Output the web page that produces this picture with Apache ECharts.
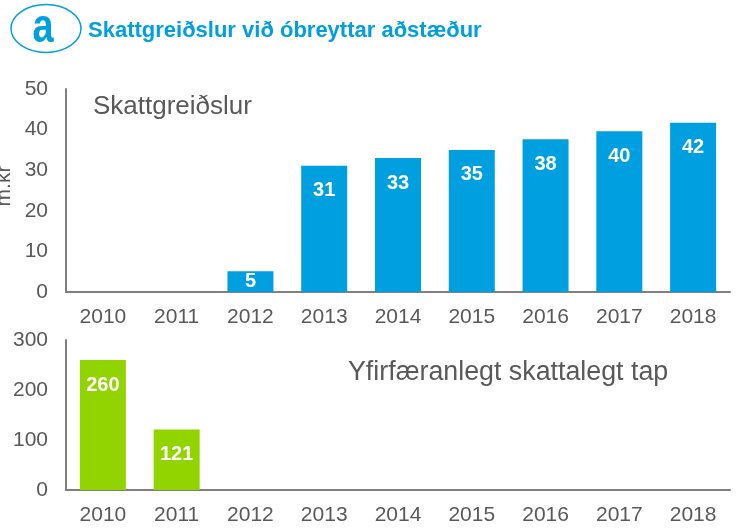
<!DOCTYPE html>
<html>
<head>
<meta charset="utf-8">
<script src="https://cdn.jsdelivr.net/npm/echarts@6/dist/echarts.min.js"></script>
<style>
  html, body { margin: 0; padding: 0; background: #fff; }
  #chart { width: 738px; height: 528px; }
</style>
</head>
<body>
<div id="chart"></div>
<script>
// data
var years = ['2010', '2011', '2012', '2013', '2014', '2015', '2016', '2017', '2018'];
var taxPaid = [null, null, 5.1, 31.1, 33.0, 35.0, 37.6, 39.6, 41.7];
var lossCarry = [260, 121, null, null, null, null, null, null, null];
var topTicks = [0, 50, 10];     // min, max, interval
var bottomTicks = [0, 300, 100];

var FONT = '"Liberation Sans", Arial, sans-serif';
var GREY = '#595959';
var BLUE = '#009fdf';
var GREEN = '#92d400';

var chart = echarts.init(document.getElementById('chart'));

function xAxisCfg(idx) {
  return {
    type: 'category', gridIndex: idx, data: years,
    axisLine: { lineStyle: { color: '#808080', width: 2 } },
    axisTick: { show: false },
    axisLabel: { color: GREY, fontSize: 21, fontFamily: FONT, margin: 15 }
  };
}
function yAxisCfg(idx, t) {
  return {
    type: 'value', gridIndex: idx, min: t[0], max: t[1], interval: t[2],
    splitLine: { show: false },
    axisLine: { show: true, lineStyle: { color: '#808080', width: 2 } },
    axisTick: { show: false },
    axisLabel: { color: GREY, fontSize: 21, fontFamily: FONT, margin: 18 }
  };
}

var labelStyle = {
  show: true, position: 'insideTop', distance: 15,
  color: '#fff', fontSize: 20, fontWeight: 'bold', fontFamily: FONT,
  formatter: function (p) { return Math.round(p.value); }
};

var topData = taxPaid.map(function (v) {
  // short bar: label sits in the middle of it
  if (v !== null && v < 10) return { value: v, label: { position: 'inside' } };
  return v;
});

chart.setOption({
  animation: false,
  textStyle: { fontFamily: FONT },
  grid: [
    { left: 66, right: 8, top: 89, bottom: 236, outerBoundsMode: 'none', containLabel: false },
    { left: 66, right: 8, top: 340, bottom: 38, outerBoundsMode: 'none', containLabel: false }
  ],
  xAxis: [xAxisCfg(0), xAxisCfg(1)],
  yAxis: [yAxisCfg(0, topTicks), yAxisCfg(1, bottomTicks)],
  series: [
    {
      name: 'Skattgreiðslur', type: 'bar', xAxisIndex: 0, yAxisIndex: 0,
      data: topData, barWidth: 46, itemStyle: { color: BLUE },
      label: labelStyle
    },
    {
      name: 'Yfirfæranlegt skattalegt tap', type: 'bar', xAxisIndex: 1, yAxisIndex: 1,
      data: lossCarry, barWidth: 46, itemStyle: { color: GREEN },
      label: labelStyle
    }
  ],
  graphic: [
    { type: 'ellipse', shape: { cx: 46, cy: 28.5, rx: 35, ry: 24 },
      style: { fill: 'none', stroke: BLUE, lineWidth: 1.5 } },
    { type: 'text', x: 43, y: 29, scaleY: 1.25, originY: 0,
      style: { text: 'a', fill: BLUE, fontSize: 38, fontWeight: 'bold', fontFamily: FONT,
               align: 'center', verticalAlign: 'middle' } },
    { type: 'text', x: 88, y: 31,
      style: { text: 'Skattgreiðslur við óbreyttar aðstæður', fill: BLUE, fontSize: 22,
               fontWeight: 'bold', fontFamily: FONT, verticalAlign: 'middle' } },
    // y-axis unit, partly cut off at the left edge as in the original
    { type: 'text', x: 4, y: 186, rotation: Math.PI / 2,
      style: { text: 'm.kr', fill: GREY, fontSize: 21, fontFamily: FONT,
               align: 'center', verticalAlign: 'middle' } },
    { type: 'text', x: 93, y: 107,
      style: { text: 'Skattgreiðslur', fill: GREY, fontSize: 26, fontFamily: FONT,
               verticalAlign: 'middle' } },
    { type: 'text', x: 348, y: 373,
      style: { text: 'Yfirfæranlegt skattalegt tap', fill: GREY, fontSize: 26.8, fontFamily: FONT,
               verticalAlign: 'middle' } }
  ]
});
</script>
</body>
</html>
